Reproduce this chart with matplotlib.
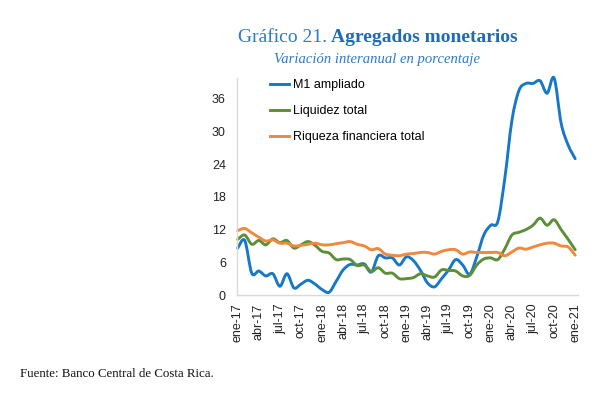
import matplotlib
matplotlib.use("Agg")
import matplotlib.pyplot as plt
from matplotlib.path import Path
from matplotlib.patches import PathPatch
from matplotlib.lines import Line2D
import numpy as np

months = ["ene-17", "abr-17", "jul-17", "oct-17", "ene-18", "abr-18", "jul-18", "oct-18",
          "ene-19", "abr-19", "jul-19", "oct-19", "ene-20", "abr-20", "jul-20", "oct-20", "ene-21"]

m1_ampliado = [8.6, 10.0, 4.0, 4.4, 3.5, 3.9, 1.6, 3.9, 1.3, 2.0, 2.7, 2.0, 1.0, 0.5, 2.5,
               4.6, 5.6, 5.5, 5.7, 4.2, 7.2, 6.8, 6.8, 5.5, 7.0, 6.3, 4.5, 2.2, 1.5, 3.0,
               4.6, 6.5, 5.5, 3.8, 7.0, 11.0, 12.8, 13.5, 21.5, 32.0, 37.5, 38.8, 38.8, 39.3,
               37.0, 39.8, 31.5, 27.5, 25.0]
liquidez = [10.2, 11.0, 9.3, 10.0, 9.2, 10.3, 9.6, 10.0, 8.6, 9.2, 9.8, 9.1, 8.0, 7.7, 6.5,
            6.6, 6.5, 5.4, 5.5, 4.3, 5.0, 4.0, 4.0, 3.0, 3.0, 3.2, 3.9, 3.5, 3.3, 4.6,
            4.5, 4.4, 3.5, 3.6, 5.5, 6.6, 6.8, 6.5, 8.5, 11.0, 11.5, 12.0, 12.8, 14.1,
            12.8, 13.8, 12.0, 10.2, 8.3]
riqueza = [11.8, 12.2, 11.4, 10.6, 9.9, 10.1, 9.5, 9.5, 9.0, 9.1, 9.3, 9.5, 9.2, 9.2, 9.4,
           9.6, 9.8, 9.3, 9.0, 8.3, 8.5, 7.5, 7.3, 7.2, 7.5, 7.6, 7.8, 7.8, 7.5, 8.0,
           8.3, 8.3, 7.5, 7.9, 7.8, 7.8, 7.8, 7.8, 7.2, 7.9, 8.6, 8.4, 8.8, 9.2,
           9.5, 9.5, 9.0, 8.8, 7.3]
series_names = ["M1 ampliado", "Liquidez total", "Riqueza financiera total"]
yticks = [0, 6, 12, 18, 24, 30, 36]

colors = ["#1878C8", "#5D8F3A", "#F0883E"]


def smooth_path(xs, ys):
    """Bezier path through the data points (Excel-style smoothed line)."""
    pts = np.column_stack([xs, ys]).astype(float)
    n = len(pts)
    verts = [pts[0]]
    codes = [Path.MOVETO]
    for i in range(n - 1):
        p0 = pts[i - 1] if i > 0 else pts[i]
        p1 = pts[i]
        p2 = pts[i + 1]
        p3 = pts[i + 2] if i + 2 < n else pts[i + 1]
        c1 = p1 + (p2 - p0) / 6.0
        c2 = p2 - (p3 - p1) / 6.0
        verts += [c1, c2, p2]
        codes += [Path.CURVE4] * 3
    return Path(verts, codes)


fig = plt.figure(figsize=(6.03, 3.96), dpi=100)
ax = fig.add_axes([237/603, 101/396, 341/603, (295-78)/396])

x = np.arange(len(m1_ampliado))
handles = []
for data, name, c in zip([m1_ampliado, liquidez, riqueza], series_names, colors):
    patch = PathPatch(smooth_path(x, data), facecolor="none", edgecolor=c, lw=2.1,
                      joinstyle="round", capstyle="round", clip_on=False)
    ax.add_patch(patch)
    handles.append(Line2D([], [], color=c, lw=2.1, label=name))

ax.set_xlim(-0.1, 48.4)
ax.set_ylim(0, 39.8)
ax.set_yticks(yticks)
ax.set_yticklabels([str(v) for v in yticks], fontsize=9, family="Liberation Sans")
ax.set_xticks(np.arange(0, 49, 3))
ax.set_xticklabels(months, rotation=90, fontsize=9, family="Liberation Sans")
ax.tick_params(length=0, pad=8, colors="#222222")
ax.tick_params(axis="x", pad=6)
for s in ["top", "right"]:
    ax.spines[s].set_visible(False)
for s in ["left", "bottom"]:
    ax.spines[s].set_color("#D9D9D9")
    ax.spines[s].set_linewidth(1.0)

leg = ax.legend(handles=handles, loc="upper left", bbox_to_anchor=(0.065, 1.045), frameon=False,
                prop={"family": "Liberation Sans", "size": 9}, handlelength=1.5,
                labelspacing=1.1, handletextpad=0.3)

fig.text(327/603, 1 - 38/396, "Gráfico 21.", ha="right", va="center",
         family="Liberation Serif", fontsize=14, color="#2B7BCB")
fig.text(331/603, 1 - 38/396, "Agregados monetarios", ha="left", va="center",
         family="Liberation Serif", fontsize=14, fontweight="bold", color="#1E6AB5")
fig.text(377/603, 1 - 60/396, "Variación interanual en porcentaje", ha="center", va="center",
         family="Liberation Serif", fontsize=10.5, style="italic", color="#2B7BCB")
fig.text(20/603, 1 - 374/396, "Fuente: Banco Central de Costa Rica.", ha="left", va="center",
         family="Liberation Serif", fontsize=9.3, color="#111111")

fig.savefig("out.png", dpi=100)
